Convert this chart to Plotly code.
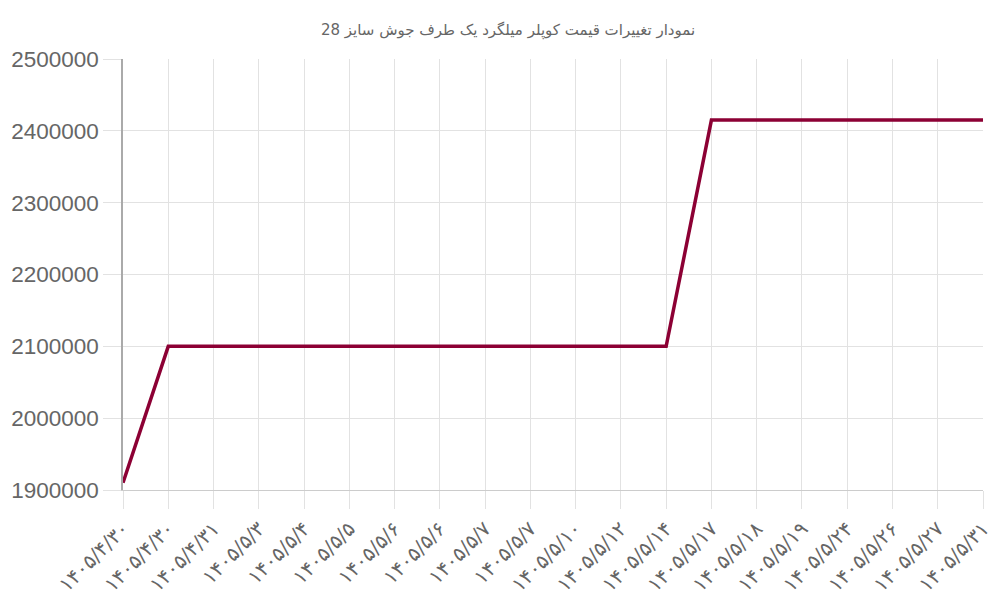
import plotly.graph_objects as go

# price history (rial), one point per recorded date
dates = ['۱۴۰۵/۴/۳۰', '۱۴۰۵/۴/۳۰', '۱۴۰۵/۴/۳۱', '۱۴۰۵/۵/۳', '۱۴۰۵/۵/۴',
         '۱۴۰۵/۵/۵', '۱۴۰۵/۵/۶', '۱۴۰۵/۵/۶', '۱۴۰۵/۵/۷', '۱۴۰۵/۵/۷',
         '۱۴۰۵/۵/۱۰', '۱۴۰۵/۵/۱۲', '۱۴۰۵/۵/۱۴', '۱۴۰۵/۵/۱۷', '۱۴۰۵/۵/۱۸',
         '۱۴۰۵/۵/۱۹', '۱۴۰۵/۵/۲۴', '۱۴۰۵/۵/۲۶', '۱۴۰۵/۵/۲۷', '۱۴۰۵/۵/۳۱']
prices = [1910000, 2100000, 2100000, 2100000, 2100000,
          2100000, 2100000, 2100000, 2100000, 2100000,
          2100000, 2100000, 2100000, 2415000, 2415000,
          2415000, 2415000, 2415000, 2415000, 2415000]
y_ticks = [1900000, 2000000, 2100000, 2200000, 2300000, 2400000, 2500000]
title = 'نمودار تغییرات قیمت کوپلر میلگرد یک طرف جوش سایز 28'

idx = list(range(len(dates)))  # duplicate dates, so plot by position

fig = go.Figure()
fig.add_trace(go.Scatter(x = idx, y = prices, mode = 'lines',
                         line = dict(color = '#8c0034', width = 3.5)))

fig.update_layout(
    width = 1000, height = 600,
    paper_bgcolor = 'white', plot_bgcolor = 'white',
    margin = dict(l = 115, r = 25, t = 51, b = 118),
    showlegend = False,
    title = dict(text = title, x = 0.5, xanchor = 'center', y = 0.963, yanchor = 'middle',
                 font = dict(family = 'DejaVu Sans', size = 15, color = '#666')),
    font = dict(family = 'Liberation Sans, Arial', color = '#666'),
)
fig.update_xaxes(range = [0, len(dates) - 1], tickmode = 'array', tickvals = idx, ticktext = dates,
                 tickangle = -45, tickfont = dict(size = 20, color = '#666', family = 'DejaVu Sans'),
                 showgrid = True, gridcolor = '#e2e2e2', gridwidth = 1,
                 ticks = 'outside', ticklen = 18, tickcolor = '#e2e2e2', automargin = False,
                 showline = True, linecolor = '#cccccc', linewidth = 1, zeroline = False)
fig.update_yaxes(range = [1900000, 2500000], tickmode = 'array', tickvals = y_ticks,
                 ticktext = [str(v) for v in y_ticks],
                 tickfont = dict(size = 22.5, color = '#666'),
                 showgrid = True, gridcolor = '#e2e2e2', gridwidth = 1,
                 ticks = 'outside', ticklen = 18, tickcolor = '#e2e2e2', automargin = False,
                 showline = True, linecolor = '#aaaaaa', linewidth = 1.5, zeroline = False)

fig.write_html("out.html")
